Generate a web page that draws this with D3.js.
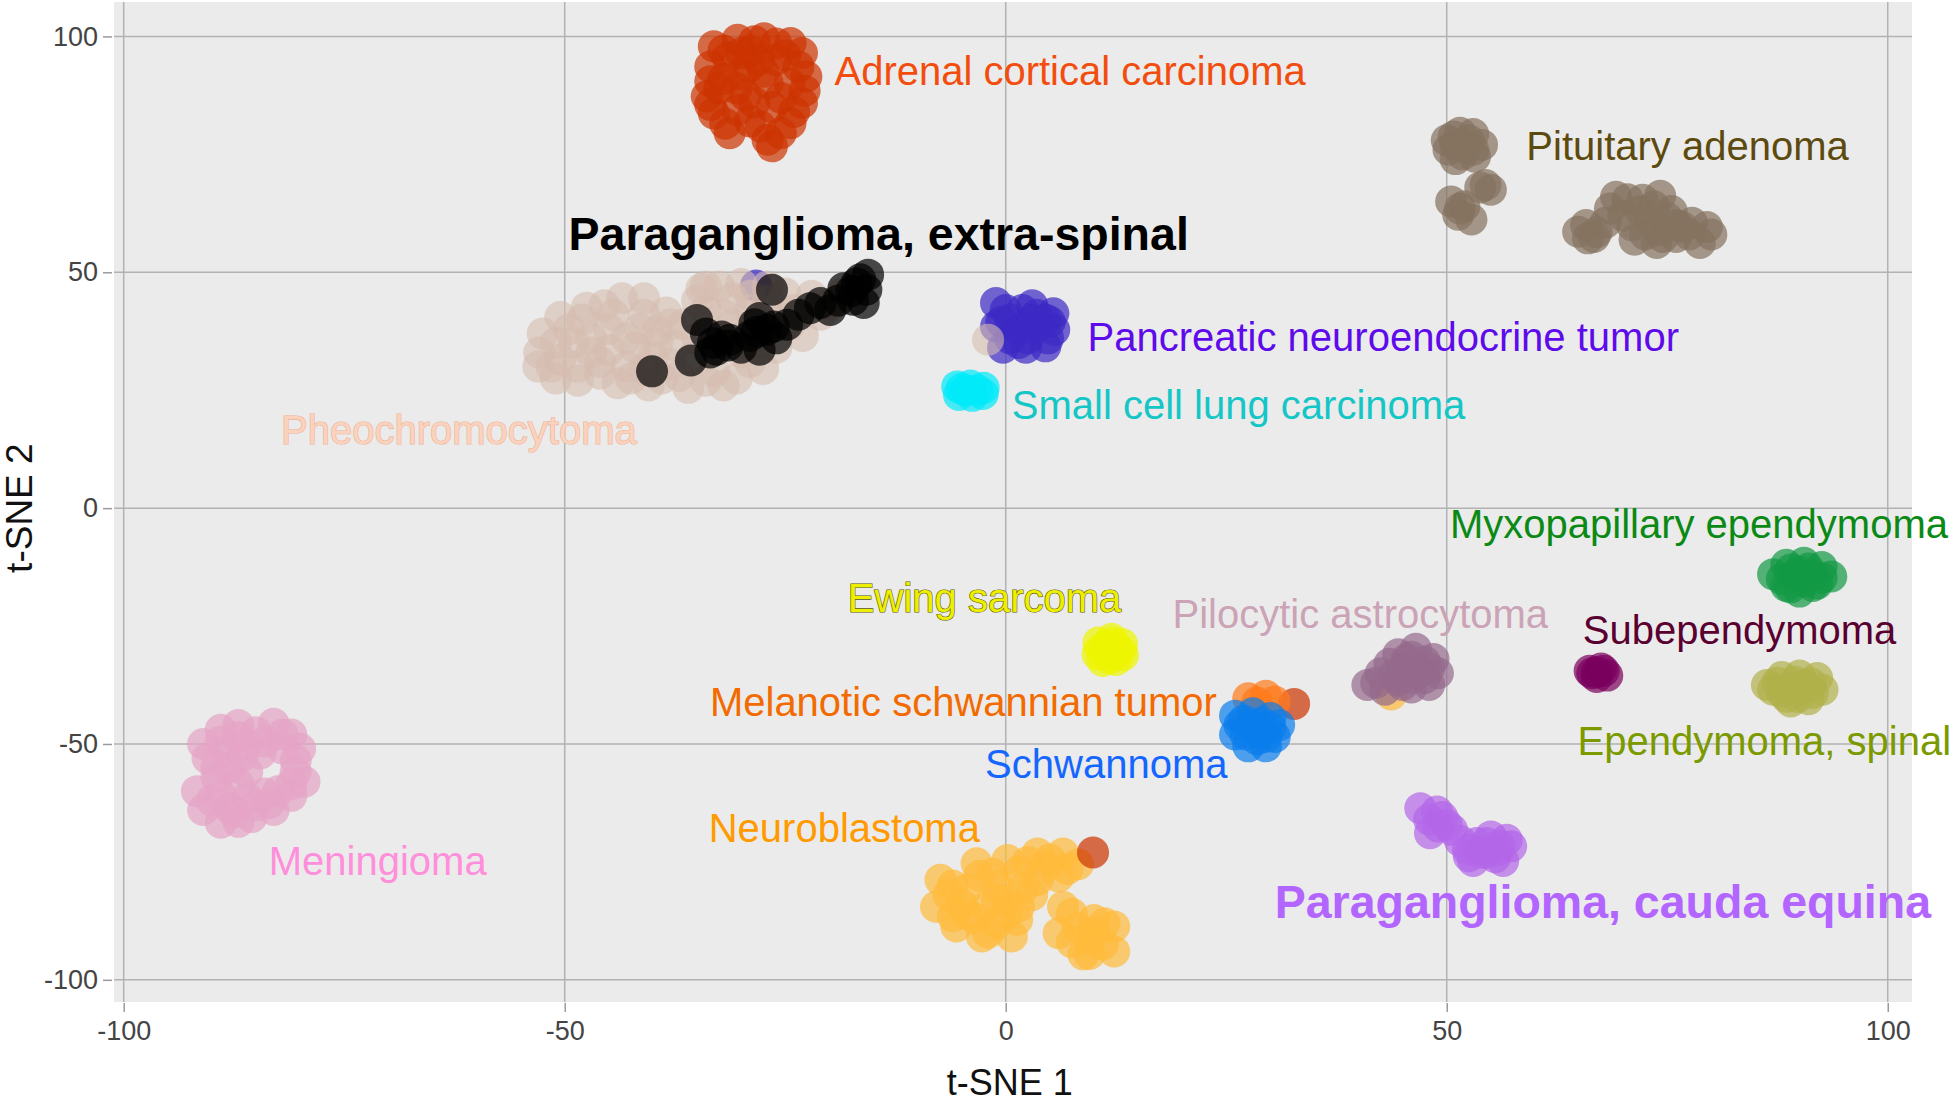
<!DOCTYPE html>
<html><head><meta charset="utf-8">
<script src="https://cdn.jsdelivr.net/npm/d3@7"></script>
<style>body{margin:0;background:#fff;} svg{display:block;font-family:"Liberation Sans",Arial,sans-serif;}</style>
</head><body><svg id="chart" width="1950" height="1103"></svg>
<script>
// ---- data (t-SNE coordinates) ----
const xTicks = [-100, -50, 0, 50, 100];
const yTicks = [-100, -50, 0, 50, 100];

const neuroblastoma = [[-7.4,-78.8],[-7.9,-84.5],[-5.6,-88.7],[-2.7,-90.8],[0.7,-90.8],[1.3,-87.3],[-3.3,-75.3],[0.2,-74.6],[3.6,-73.2],[6.5,-73.2],[8.2,-75.5],[6.0,-78.1],[3.6,-78.8],[-1.0,-80.2],[-4.5,-80.9],[-2.2,-84.5],[0.2,-83.0],[6.5,-84.5],[6.0,-90.1],[8.8,-94.6],[12.3,-94.0],[12.3,-88.7],[10.0,-87.3],[9.4,-91.5],
  [-6,-80],[-5,-84],[-3.5,-87],[-1,-88],[0,-86],[-1.5,-77.5],[1.5,-77],[2,-80.5],[4.5,-76],[7,-76.5],[5,-74.5],[-3,-78],[-6.5,-82],[-1,-83],[1.5,-84.5],[-4.5,-86],[3,-82],[2.5,-75],[-2,-90],[-6,-86.5],
  [7.5,-86],[8.2,-89],[10,-90],[11,-92.5],[7.5,-92],[11.2,-88],[9.5,-94.5],[43.7,-39.5]];
const pilocytic = [[44.5,-31],[46.5,-29.8],[48.5,-32],[49,-35],[47,-34.5],[45,-34],[42.5,-35],[41,-37.5],[43,-38.5],[46,-38],[48,-37.5],[44.5,-36.5],
  [45.5,-32],[47.5,-32.5],[43.5,-33],[46,-36],[44,-35.5],[42,-37],[47.5,-36],[45,-37.5],[48,-34],[46,-31.5]];
const adrenal = [[-33.1,97.9],[-30.4,99.3],[-27.4,99.6],[-24.4,98.6],[-23.1,96.5],[-33.5,93.6],[-22.6,91.5],[-23.1,85.9],[-33.9,87.3],[-33.1,83.7],[-30.4,84.4],[-27.0,90.1],[-29.1,93.6],[-31.3,79.5],[-27.0,78.1],[-26.5,76.7],[-24.4,81.6],[-27.8,80.9],[-23.5,93.6],[-26.1,95.0],[-30.5,89],[-28.5,86],[-25.5,87],[-31.5,95.5],[-29,97],[-32,91],
  [-32,97],[-28,95],[-25,96],[-30,92],[-27.5,92.5],[-24.5,90],[-32.5,89],[-29.5,87.5],[-26.5,85],[-24,84],[-29,82],[-25.5,79.5],[-31.8,81.5],[-33.5,90.5],[-28.5,99],[-26,98.5],[-30,96.5],[-22.8,88.5],[-33.5,85.5],
  [9.9,-73.0],[32.7,-41.5]];
const melanotic = [[27.5,-40.3],[29.5,-39.8],[30.5,-41],[28.5,-41.2]];
const schwannoma = [[26,-44],[28,-43.5],[30,-44.5],[26,-48],[28.5,-47],[30.5,-48.5],[27.5,-50.5],[29.5,-50.5],[26.5,-46],[31,-46],
  [27,-45],[29,-45.5],[28.5,-49],[27.2,-48],[30,-46.5],[29.5,-48.5],[28,-46]];
const meningioma = [[-91,-50],[-89,-47],[-87,-46],[-85,-47.5],[-83,-45.7],[-81,-48],[-80,-51],[-82,-51],[-86,-50],[-88.5,-51.5],[-90.5,-53],[-91.7,-60],[-91,-64],[-89,-66.7],[-87,-66.5],[-85,-63],[-83,-64],[-81,-61],[-79.5,-58],[-80.5,-56],[-89,-61],[-87,-58.5],[-88,-55],
  [-89,-49.5],[-87,-48.5],[-84,-49.5],[-82,-48],[-86.5,-52.5],[-84.5,-52],[-89.5,-57],[-90,-62],[-88,-63.5],[-86,-61.5],[-84,-60.5],[-82.5,-60],[-81,-58.5],[-87.5,-64.5],[-85.5,-65.5],[-89.5,-55],[-86,-56],[-83.5,-62.5],[-80.5,-53.5]];
const ewing = [[10.5,-28.5],[12,-27.7],[13.2,-28.8],[10.4,-31],[11.8,-30],[13.3,-31.2],[11,-32.4],[12.5,-32.2],
  [11.5,-29],[12.3,-31],[10.8,-30],[13,-30.2],[11.7,-31.8],[12.2,-28.6]];
const subependymoma = [[66.2,-34.5],[67.5,-34],[68.2,-35.5],[67,-35.8],[66.5,-35],[67,-34.8],[67.8,-34.5]];
const myxopapillary = [[87,-14],[88.5,-12],[90.5,-11.6],[92.5,-12.5],[93.6,-14.5],[92,-16],[90,-17.7],[88.5,-16.5],[89.5,-14],[91.5,-14.2],
  [89,-13],[91,-12.8],[88,-15],[90.5,-15.5],[92.5,-14.8],[91.5,-16.5],[89,-16.8],[90,-13.5]];
const ependymomaSpinal = [[86.3,-37.5],[88,-35.8],[90,-35.5],[92,-36],[92.6,-38.5],[91,-40.5],[89,-41],[88,-39],[90,-38.5],
  [87.5,-37],[89.5,-36.8],[91.3,-37.2],[91.5,-39.2],[89.8,-40],[88.5,-40],[87,-38.5],[90.5,-37.5]];
const caudaEquina = [[47.0,-63.6],[48.9,-64.3],[50.0,-67.1],[48.1,-68.9],[50.6,-68.2],[53.4,-71.0],[55.0,-69.6],[56.8,-70.3],[57.3,-71.7],[53.0,-74.8],[56.4,-74.8],[54.5,-73.1],[52.4,-72.4],
  [48,-66],[49.5,-65.5],[49,-67.5],[54.5,-71],[55.8,-72.5],[53.8,-73],[55.5,-74],[52.5,-73.8],[56,-71.5],[51.5,-70.5]];
const pituitary = [[50,78],[51.5,79.6],[53,79.3],[54,77],[53.2,74.5],[51,74],[50.2,76],[52,76.5],[51,77],[52.5,78],[53,76],[51.8,75],[50.8,78.8],
  [54.4,68.5],[55,67.5],[53.8,68],[50.5,65],[52.8,61.2],[51.5,63.5],[51.3,62.2],[52,64],
  [64.9,58.6],[66.7,57.5],[69.2,66.0],[72.2,65.4],[74.2,66.2],[71.3,56.9],[73.8,56.2],[76.7,59.6],[79.5,59.6],[78.7,56.2],[73,61.1],[70,62],[75.5,63],
  [67,58.5],[68,60.5],[70.5,65.5],[71,60],[72.5,58],[74,59],[75,61.5],[76,57.5],[77.5,58],[72,63],[73.5,64],[68.5,63.5],[65.8,60],[66,57.2],[77.8,60.5],[80,58],[74.5,57.5],[76,60]];
const smallCell = [[-5.5,25.8],[-4.0,26.0],[-2.5,25.5],[-5.3,24.0],[-3.8,23.8],[-2.6,24.2],[-4.5,25],[-3.2,25],[-5,25.3]];
const pancreatic = [[-1.1,43.5],[1.9,42.0],[5.4,41.3],[5.5,37.8],[4.5,34.3],[2.3,34.0],[-0.3,34.0],[-1.1,38.5],[1.5,37.8],[3.6,38.5],[3.5,41],[0.5,40],
  [0,42],[3,43],[4.5,40],[2.5,36],[0.5,36],[-0.5,39.5],[4.8,36],[1.5,35],[3,40],[5,39.5],[-28.3,47.2]];
const pheochromocytoma = [[-52.9,33],[-52.5,37],[-51.5,30],[-50.5,40.5],[-49,35],[-48.5,27],[-47.5,42.5],[-46,31],[-45,38],[-44,26.5],[-43.5,44.5],[-42,34],[-41,41],[-40.5,26],[-39.5,37.5],[-38,30.5],[-38.5,41.5],[-36,25.5],[-35,36],[-34,42],[-33,29],[-32.5,47],[-31,39],[-30,33],[-29,45],[-28,36.5],[-27.5,29.5],[-26.8,41],[-25,45.5],[-24.5,39],[-22,45],[-20,43],[-18.5,45.5],[-48,40],[-45,33.5],[-41,29.5],[-37.5,34.5],[-50.5,31.5],[-43,30],[-34.5,46.5],[-30.5,27.5],
  [-51,35],[-49.5,38],[-47,36],[-46,28.5],[-44.5,41],[-43,36],[-41.5,38],[-40,32],[-39,27.5],[-37,28],[-36.5,39],[-35.5,32],[-33.5,33],[-32,41],[-30,36],[-29,42],[-27,44],[-24,42],[-21,41],[-47,33],[-53,30],[-51,27.5],[-45.5,43],[-41,44.5],[-39.5,35],[-34,27],[-32,26],[-29,31],[-26,34],[-23,36.5],[-48.5,30],[-42.5,27.5],[-38,39],[-35,44],[-31,44.5],[-34,47],[-30,47.5],[-27,47],
  [-2.0,35.7]];
const extraSpinal = [[-40.1,29.0],[-35.7,31.3],[-35.0,39.9],[-33.2,35.0],[-32.2,36.4],[-31.3,35.7],[-32.8,33.6],[-27.9,33.6],[-27.9,40.3],[-28.2,37.4],[-27.1,37.8],[-26.3,38.5],[-24.8,38.9],[-26.5,46.3],[-22.2,42.4],[-19.9,42.0],[-18.4,46.6],[-17.3,44.2],[-16.1,43.5],[-16.9,47.7],[-15.6,49.5],[-15.8,46.3],
  [-34,37],[-30,34],[-29,36.5],[-26,36],[-23.5,41],[-21,43.5],[-19,44],[-17.5,46],[-16.5,48.5],[-33.5,33],[-28.5,39],[-31.5,34.5]];

// draw order (bottom to top)
const seriesNames = ["Neuroblastoma","Pilocytic astrocytoma","Adrenal cortical carcinoma","Melanotic schwannian tumor","Schwannoma","Meningioma","Ewing sarcoma","Subependymoma","Myxopapillary ependymoma","Ependymoma, spinal","Paraganglioma, cauda equina","Pituitary adenoma","Small cell lung carcinoma","Pancreatic neuroendocrine tumor","Pheochromocytoma","Paraganglioma, extra-spinal"];
const seriesPoints = [neuroblastoma,pilocytic,adrenal,melanotic,schwannoma,meningioma,ewing,subependymoma,myxopapillary,ependymomaSpinal,caudaEquina,pituitary,smallCell,pancreatic,pheochromocytoma,extraSpinal];

// annotation labels: text and anchor (data coords, label centre)
const labelText = ["Adrenal cortical carcinoma","Pituitary adenoma","Paraganglioma, extra-spinal","Pancreatic neuroendocrine tumor","Small cell lung carcinoma","Pheochromocytoma","Myxopapillary ependymoma","Ewing sarcoma","Pilocytic astrocytoma","Subependymoma","Melanotic schwannian tumor","Ependymoma, spinal","Schwannoma","Neuroblastoma","Meningioma","Paraganglioma, cauda equina"];
const labelX = [7.3, 77.3, -14.4, 42.8, 26.4, -62.0, 78.6, -2.4, 40.2, 83.2, -4.8, 86.0, 11.4, -18.3, -71.2, 67.7];
const labelY = [92.7, 76.8, 58.2, 36.3, 21.9, 16.6, -3.3, -19.0, -22.4, -25.8, -41.2, -49.3, -54.2, -67.8, -74.8, -83.6];

// ---- styles ----
const pointColor = {
  "Neuroblastoma":"#FFBB3A","Pilocytic astrocytoma":"#94698C","Adrenal cortical carcinoma":"#CC3300",
  "Melanotic schwannian tumor":"#FF7A1A","Schwannoma":"#0A7EEC","Meningioma":"#E6A4C6","Ewing sarcoma":"#EEF500",
  "Subependymoma":"#7A005E","Myxopapillary ependymoma":"#129845","Ependymoma, spinal":"#B0B04A",
  "Paraganglioma, cauda equina":"#B466E8","Pituitary adenoma":"#84725F","Small cell lung carcinoma":"#00EAFA",
  "Pancreatic neuroendocrine tumor":"#3C2AC4","Pheochromocytoma":"#D6BCAF","Paraganglioma, extra-spinal":"#000000"
};
const labelStyle = {
  "Adrenal cortical carcinoma":{fill:"#F24D0F"},
  "Pituitary adenoma":{fill:"#5C4A0E"},
  "Paraganglioma, extra-spinal":{fill:"#000000",bold:true},
  "Pancreatic neuroendocrine tumor":{fill:"#5E0AEB"},
  "Small cell lung carcinoma":{fill:"#14C6C6"},
  "Pheochromocytoma":{fill:"#FAD2BE",stroke:"#EDB393"},
  "Myxopapillary ependymoma":{fill:"#0A8A14"},
  "Ewing sarcoma":{fill:"#EEEE00",stroke:"#5A5A00"},
  "Pilocytic astrocytoma":{fill:"#CBA3B6"},
  "Subependymoma":{fill:"#5A0030"},
  "Melanotic schwannian tumor":{fill:"#F26A00"},
  "Ependymoma, spinal":{fill:"#7B9A00"},
  "Schwannoma":{fill:"#1466FF"},
  "Neuroblastoma":{fill:"#FF9A00"},
  "Meningioma":{fill:"#FF8FDA"},
  "Paraganglioma, cauda equina":{fill:"#B266FF",bold:true}
};

// ---- chart ----
const svg = d3.select("#chart");
const panel = {left:114, right:1912, top:2, bottom:1002};
const x = d3.scaleLinear().domain([-101.1, 102.75]).range([panel.left, panel.right]);
const y = d3.scaleLinear().domain([-104.7, 107.3]).range([panel.bottom, panel.top]);

svg.append("rect").attr("x",panel.left).attr("y",panel.top)
  .attr("width",panel.right-panel.left).attr("height",panel.bottom-panel.top).attr("fill","#EBEBEB");

// grid
const grid = svg.append("g");
grid.selectAll(".gx").data(xTicks).join("line")
  .attr("x1",d=>x(d)).attr("x2",d=>x(d)).attr("y1",panel.top).attr("y2",panel.bottom)
  .attr("stroke","#B2B2B2").attr("stroke-width",1.5);
grid.selectAll(".gy").data(yTicks).join("line")
  .attr("y1",d=>y(d)).attr("y2",d=>y(d)).attr("x1",panel.left).attr("x2",panel.right)
  .attr("stroke","#B2B2B2").attr("stroke-width",1.5);

// axes
const fmt = d => String(d);
const xAxis = d3.axisBottom(x).tickValues(xTicks).tickSize(9).tickPadding(8).tickFormat(fmt);
const yAxis = d3.axisLeft(y).tickValues(yTicks).tickSize(9).tickPadding(5).tickFormat(fmt);
const gx = svg.append("g").attr("transform",`translate(0,${panel.bottom+1})`).call(xAxis);
const gy = svg.append("g").attr("transform",`translate(${panel.left-2},0)`).call(yAxis);
[gx,gy].forEach(g=>{
  g.select(".domain").remove();
  g.selectAll(".tick line").attr("stroke","#9A9A9A").attr("stroke-width",1.5);
  g.selectAll(".tick text").attr("fill","#444").style("font-size","27px")
   .style("font-family",'"Liberation Sans",Arial,sans-serif');
});
gx.selectAll(".tick text").attr("dy","0.75em");

svg.append("text").attr("x",x(0)+4).attr("y",1082).attr("text-anchor","middle")
  .attr("dominant-baseline","central").style("font-size","36px").attr("fill","#111").text("t-SNE 1");
svg.append("text").attr("transform",`translate(19,${y(0)}) rotate(-90)`).attr("text-anchor","middle")
  .attr("dominant-baseline","central").style("font-size","37px").attr("fill","#111").text("t-SNE 2");

// points
const pts = svg.append("g");
seriesNames.forEach((name,i)=>{
  const op = name==="Pheochromocytoma" ? 0.6 : 0.7;
  pts.append("g").selectAll("circle").data(seriesPoints[i]).join("circle")
    .attr("cx",d=>x(d[0])).attr("cy",d=>y(d[1])).attr("r",16)
    .attr("fill",pointColor[name]).attr("fill-opacity",op);
});

// labels
const lab = svg.append("g");
labelText.forEach((t,i)=>{
  const st = labelStyle[t];
  const el = lab.append("text").attr("x",x(labelX[i])).attr("y",y(labelY[i]))
    .attr("text-anchor","middle").attr("dominant-baseline","central")
    .style("font-size", st.bold ? "46.5px" : "40px")
    .style("font-weight", st.bold ? "bold" : "normal")
    .attr("fill",st.fill).text(t);
  if (st.stroke) el.attr("stroke",st.stroke).attr("stroke-width",1.2).attr("paint-order","stroke");
});
</script>
</body></html>
